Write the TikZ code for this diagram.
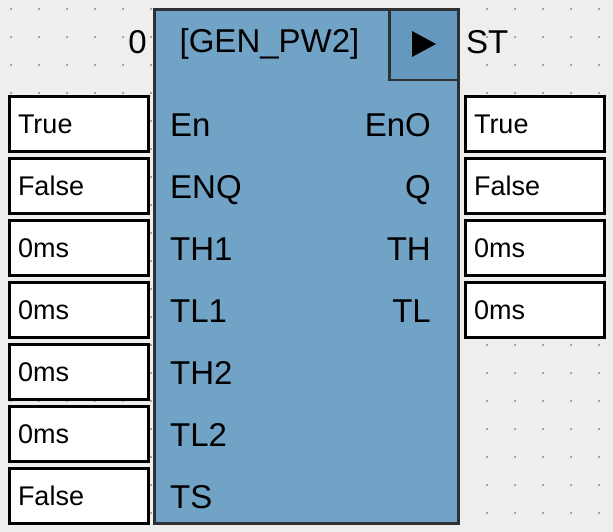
\documentclass[tikz,border=0pt]{standalone}
\usepackage{fontspec}
\setmainfont{Liberation Sans}
\definecolor{canvas}{HTML}{EEEEEC}
\definecolor{blockblue}{HTML}{71A3C7}
\definecolor{runblue}{HTML}{6498BE}
\definecolor{blockedge}{HTML}{2E3134}
\definecolor{dotgray}{HTML}{5A5A5A}

\begin{document}
\begin{tikzpicture}[x=1pt,y=-1pt,
  valbox/.style={draw=black, line width=3pt, fill=white, minimum width=139pt,
    minimum height=55pt, text width=121pt, align=left, text height=19.3pt,
    text depth=0pt, font=\fontsize{27}{31}\selectfont},
  pin/.style={inner sep=0pt, font=\fontsize{33}{37}\selectfont}]
\useasboundingbox (0,0) rectangle (613,532);
\fill[canvas] (0,0) rectangle (613,532);
\foreach \i in {0,...,21}
  \foreach \j in {0,...,18}
    \fill[dotgray] (11+28*\i,9+28*\j) circle (0.8pt);

\node[draw=blockedge, line width=3pt, fill=blockblue, inner sep=0pt,
  minimum width=304pt, minimum height=514pt] (blk) at (306.5,266.5) {};
\node[draw=blockedge, line width=2.5pt, fill=runblue, inner sep=0pt,
  minimum width=69pt, minimum height=70pt] (run) at (424,45) {};
\fill (412,31) -- (436,44) -- (412,57) -- cycle;

\node[pin, anchor=base] (title) at (269.5,53) {[GEN\_PW2]};
\node[pin, anchor=base east] (cnt) at (147,54) {0};
\node[pin, anchor=base west] (st) at (466,54) {ST};

\foreach \v [count=\k] in {True,False,0ms,0ms,0ms,0ms,False}
  \node[valbox] (in\k) at (78.5,62+62*\k) {\v};
\foreach \v [count=\k] in {True,False,0ms,0ms}
  \node[valbox] (out\k) at (534.5,62+62*\k) {\v};

\foreach \p [count=\k] in {En,ENQ,TH1,TL1,TH2,TL2,TS}
  \node[pin, anchor=base west] (ip\k) at (170,74+62*\k) {\p};
\foreach \p [count=\k] in {EnO,Q,TH,TL}
  \node[pin, anchor=base east] (op\k) at (431,74+62*\k) {\p};
\end{tikzpicture}
\end{document}
